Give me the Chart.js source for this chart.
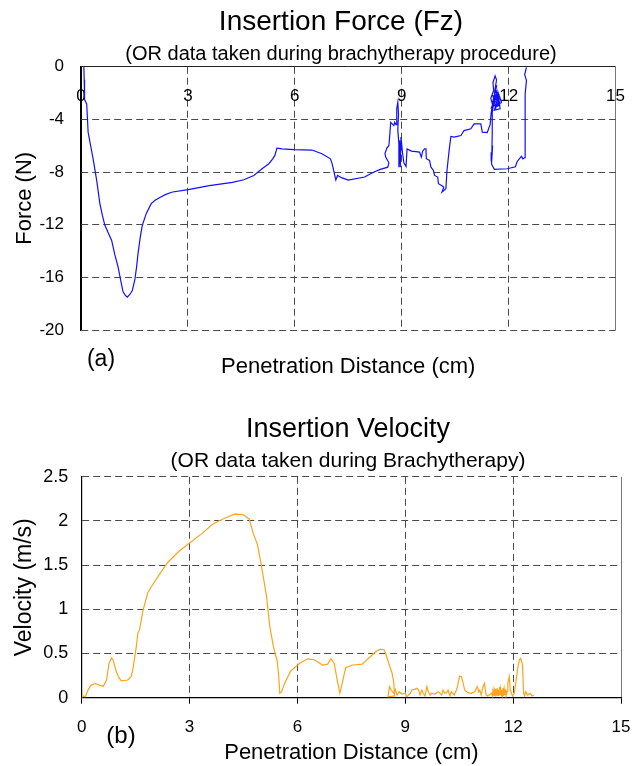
<!DOCTYPE html>
<html>
<head>
<meta charset="utf-8">
<script src="https://cdn.jsdelivr.net/npm/chart.js@4"></script>
<style>
  body { margin: 0; background: #fff; }
  #wrap { position: relative; width: 644px; height: 766px; }
  #forceChart { position: absolute; left: 0; top: 0; }
  #velocityChart { position: absolute; left: 0; top: 385px; }
</style>
</head>
<body>
<div id="wrap">
  <canvas id="forceChart" width="644" height="385"></canvas>
  <canvas id="velocityChart" width="644" height="381"></canvas>
</div>
<script>
// tick values
const distanceTicks = [0, 3, 6, 9, 12, 15];
const forceTicks = [-20, -16, -12, -8, -4, 0];
const velocityTicks = [0, 0.5, 1, 1.5, 2, 2.5];

// (a) insertion force
const forceX = [0.08, 0.09, 0.1, 0.16, 0.2, 0.27, 0.34, 0.44, 0.53, 0.6, 0.67, 0.76, 0.86, 0.95, 1.04, 1.12, 1.18, 1.24, 1.3, 1.37,
  1.44, 1.51, 1.56, 1.6, 1.66, 1.72, 1.83, 1.97, 2.08, 2.2, 2.38, 2.57, 3.01, 3.6, 4.25, 4.57, 4.85, 5.08, 5.27, 5.38,
  5.44, 5.5, 5.55, 5.64, 5.97, 6.48, 6.76, 7.0, 7.05, 7.11, 7.15, 7.2, 7.31, 7.5, 7.96, 8.22, 8.4, 8.61, 8.64, 8.55,
  8.53, 8.58, 8.64, 8.67, 8.69, 8.78, 8.8, 8.84, 8.86, 8.89, 8.91, 8.89, 8.92, 8.92, 8.94, 8.96, 8.98, 9.02, 9.06, 9.12,
  9.15, 9.27, 9.4, 9.5, 9.55, 9.59, 9.64, 9.68, 9.69, 9.78, 9.82, 9.89, 9.92, 10.01, 10.03, 10.12, 10.18, 10.13, 10.24, 10.27,
  10.33, 10.38, 10.47, 10.66, 10.75, 10.94, 11.03, 11.22, 11.26, 11.4, 11.48, 11.51,
  11.55, 11.5, 11.58, 11.56, 11.62, 11.66, 11.61, 11.69, 11.58, 11.74, 11.66, 11.8, 11.71, 11.76, 11.6, 11.68, 11.52, 11.64,
  11.57, 11.72, 11.63, 11.7, 11.55, 11.67, 11.6, 11.75, 11.62, 11.69, 11.56, 11.64, 11.59, 11.54,
  11.54, 11.53, 11.51, 11.55, 11.52, 11.56, 11.6, 11.96, 12.19, 12.24, 12.3, 12.36, 12.4, 12.46, 12.46, 12.47, 12.46, 12.5, 12.45, 12.5];
const forceY = [0, -1.0, -2.5, -2.83, -4.97, -6.0, -7.0, -8.64, -10.4, -11.3, -12.05, -12.6, -13.2, -14.3, -15.2, -16.3, -17.1, -17.35, -17.5, -17.3,
  -17.0, -16.2, -15.2, -14.2, -13.0, -12.05, -11.16, -10.4, -10.15, -9.95, -9.7, -9.52, -9.34, -9.04, -8.79, -8.59, -8.26, -7.75, -7.37, -7.0,
  -6.74, -6.19, -6.2, -6.24, -6.3, -6.33, -6.61, -7.0, -7.4, -8.13, -8.6, -8.26, -8.43, -8.62, -8.38, -8.0, -7.8, -7.63, -7.3, -6.87,
  -6.6, -6.2, -5.98, -5.0, -4.22, -4.47, -4.22, -4.4, -3.2, -2.7, -3.6, -4.8, -5.86, -7.63, -5.6, -7.63, -5.35, -6.5, -7.3, -7.58,
  -6.24, -6.41, -6.45, -6.49, -6.87, -6.4, -6.24, -6.24, -6.99, -7.12, -7.63, -7.88, -8.26, -8.38, -8.89, -9.02, -9.15, -9.52, -9.27, -7.88,
  -6.36, -5.3, -5.35, -5.23, -4.85, -4.72, -4.34, -4.34, -4.97, -5.0, -4.4, -3.5,
  -2.9, -2.4, -1.8, -1.2, -0.7, -1.0, -1.9, -2.1, -2.6, -2.4, -3.0, -2.7, -2.0, -3.2, -3.3, -2.8, -3.1, -2.2,
  -2.5, -2.9, -1.6, -2.3, -2.7, -1.4, -2.0, -2.9, -3.1, -2.4, -2.2, -3.2, -2.6, -3.5,
  -5.0, -6.5, -7.2, -6.0, -7.4, -7.6, -7.8, -7.75, -7.6, -7.2, -7.0, -6.8, -7.0, -6.9, -6.2, -4.75, -2.07, -1.06, -0.6, -0.05];

// (b) insertion velocity
const velocityX = [0, 0.05, 0.09, 0.12, 0.18, 0.26, 0.37, 0.5, 0.6, 0.69, 0.76, 0.83, 0.87, 0.96, 1.03, 1.1, 1.28, 1.38, 1.44, 1.47,
  1.52, 1.56, 1.61, 1.7, 1.84, 2.07, 2.39, 2.71, 3.0, 3.35, 3.63, 3.81, 4.09, 4.27, 4.5, 4.66, 4.77, 4.89, 5.0, 5.14,
  5.23, 5.33, 5.44, 5.48, 5.51, 5.55, 5.65, 5.81, 6.06, 6.29, 6.47, 6.7, 6.84, 6.93, 7.02, 7.12, 7.18, 7.25, 7.34, 7.53,
  7.8, 7.99, 8.17, 8.31, 8.42, 8.54, 8.63, 8.68, 8.7,
  8.52, 8.56, 8.61, 8.68, 8.72, 8.77, 8.83, 8.91, 9.0, 9.04, 9.14, 9.18, 9.26, 9.32, 9.37, 9.41, 9.46, 9.5, 9.55, 9.6,
  9.64, 9.69, 9.73, 9.82, 9.92, 10.01, 10.05, 10.1, 10.15, 10.19, 10.24, 10.28, 10.36, 10.42, 10.45, 10.51, 10.56, 10.61, 10.65, 10.74,
  10.83, 10.93, 11.0, 11.04, 11.07, 11.11, 11.16, 11.2, 11.25, 11.29, 11.4, 11.42, 11.44, 11.46, 11.48, 11.5, 11.51, 11.53, 11.55, 11.57,
  11.58, 11.6, 11.62, 11.63, 11.65, 11.67, 11.68, 11.7, 11.72, 11.73, 11.75, 11.77, 11.78, 11.8, 11.83, 11.85, 11.89, 11.92, 11.98, 12.03,
  12.07, 12.12, 12.17, 12.21, 12.26, 12.29, 12.32, 12.35, 12.4, 12.47, 12.53, 12.58];
const velocityY = [0, 0.02, 0.01, 0.03, 0.09, 0.14, 0.16, 0.14, 0.13, 0.2, 0.39, 0.45, 0.43, 0.3, 0.23, 0.19, 0.2, 0.24, 0.36, 0.45,
  0.58, 0.73, 0.77, 0.98, 1.19, 1.34, 1.53, 1.66, 1.75, 1.86, 1.96, 2.0, 2.05, 2.08, 2.07, 2.02, 1.86, 1.73, 1.49, 1.15,
  0.81, 0.58, 0.41, 0.24, 0.05, 0.06, 0.17, 0.3, 0.39, 0.44, 0.43, 0.37, 0.38, 0.44, 0.39, 0.17, 0.05, 0.17, 0.34, 0.37,
  0.38, 0.45, 0.52, 0.55, 0.54, 0.39, 0.28, 0.17, 0.02,
  0.01, 0.125, 0.087, 0.05, 0.095, 0.03, 0.068, 0.042, 0.05, 0.01, 0.05, 0.087, 0.095, 0.106, 0.087, 0.03, 0.087, 0.05, 0.02, 0.125,
  0.068, 0.03, 0.05, 0.042, 0.068, 0.03, 0.087, 0.05, 0.057, 0.087, 0.02, 0.068, 0.03, 0.087, 0.125, 0.245, 0.238, 0.163, 0.087, 0.057,
  0.05, 0.068, 0.125, 0.068, 0.087, 0.03, 0.125, 0.163, 0.03, 0.02, 0.05, 0.02, 0.09, 0.02, 0.08, 0.02, 0.1, 0.03, 0.11, 0.02,
  0.09, 0.02, 0.12, 0.03, 0.1, 0.02, 0.09, 0.03, 0.11, 0.02, 0.1, 0.03, 0.09, 0.02, 0.07, 0.163, 0.238, 0.087, 0.02, 0.05,
  0.163, 0.314, 0.427, 0.446, 0.37, 0.05, 0.02, 0.068, 0.03, 0.05, 0.02, 0.03];

Chart.defaults.font.family = '"Liberation Sans", Arial, sans-serif';
Chart.defaults.color = '#000';

const useTicks = (values) => (scale) => { scale.ticks = values.map(v => ({ value: v })); };
// dashed grid lines; lines listed in `solid` are drawn as solid edges
const gridDash = (solid) => (c) => (c.tick && !(c.tick.value in solid)) ? [7, 4] : [];
const gridColor = (solid) => (c) => (c.tick && c.tick.value in solid) ? solid[c.tick.value] : '#4a4a4a';

// invisible right-hand box so the titles sit where they do in the figure
const spacerAxis = (w) => ({
  position: 'right',
  display: true,
  afterFit: (s) => { s.width = w; },
  ticks: { display: false },
  grid: { display: false },
  border: { display: false }
});

const panelLabel = (text, x, y, size) => ({
  id: 'panelLabel',
  afterDraw(chart) {
    const c = chart.ctx;
    c.save();
    c.font = size + 'px "Liberation Sans", Arial, sans-serif';
    c.fillStyle = '#000';
    c.textAlign = 'center';
    c.textBaseline = 'middle';
    c.fillText(text, x, y);
    c.restore();
  }
});

const forceCtx = document.getElementById('forceChart').getContext('2d');
const forceChart = new Chart(forceCtx, {
  type: 'scatter',
  data: {
    datasets: [{
      data: forceX.map((x, i) => ({ x: x, y: forceY[i] })),
      showLine: true,
      borderColor: '#1010ff',
      borderWidth: 1.2,
      pointRadius: 0,
      tension: 0
    }]
  },
  options: {
    responsive: false,
    animation: false,
    layout: { padding: { left: 0, right: -38, top: 0, bottom: 0 } },
    plugins: {
      legend: { display: false },
      tooltip: { enabled: false },
      title: {
        display: true,
        text: 'Insertion Force (Fz)',
        font: { size: 28, weight: 'normal' },
        padding: { top: 5.5, bottom: 0 }
      },
      subtitle: {
        display: true,
        text: '(OR data taken during brachytherapy procedure)',
        color: '#000',
        font: { size: 20, weight: 'normal' },
        padding: { top: 3, bottom: 0.6 }
      }
    },
    scales: {
      x: {
        type: 'linear',
        min: 0,
        max: 15,
        afterBuildTicks: useTicks(distanceTicks),
        afterFit: (s) => { s.height = 55; },
        ticks: { display: false },
        grid: { drawTicks: false, color: gridColor({ 0: '#000', 15: '#777' }) },
        border: { display: false, dash: gridDash({ 0: 1, 15: 1 }) },
        title: {
          display: true,
          text: 'Penetration Distance (cm)',
          font: { size: 22 },
          padding: { top: 0, bottom: 5 }
        }
      },
      xTop: {
        type: 'linear',
        axis: 'x',
        position: { y: 0 },
        min: 0,
        max: 15,
        afterBuildTicks: useTicks(distanceTicks),
        ticks: { font: { size: 17 }, padding: 19, callback: (v) => String(v) },
        grid: { display: false, drawTicks: false },
        border: { display: false }
      },
      y: {
        min: -20,
        max: 0,
        afterBuildTicks: useTicks(forceTicks),
        afterFit: (s) => { s.width = 81; },
        ticks: { font: { size: 17 }, padding: 17, callback: (v) => String(v) },
        grid: { drawTicks: false, color: gridColor({ 0: '#222' }) },
        border: { display: true, color: '#000', width: 1.2, dash: gridDash({ 0: 1 }) },
        title: {
          display: true,
          text: 'Force (N)',
          font: { size: 22 },
          padding: { top: 11.8, bottom: 0 }
        }
      },
      pad: spacerAxis(63)
    }
  },
  plugins: [panelLabel('(a)', 101, 360, 23)]
});

const velocityCtx = document.getElementById('velocityChart').getContext('2d');
const velocityChart = new Chart(velocityCtx, {
  type: 'scatter',
  data: {
    datasets: [{
      data: velocityX.map((x, i) => ({ x: x, y: velocityY[i] })),
      showLine: true,
      borderColor: '#ffa31a',
      borderWidth: 1.2,
      pointRadius: 0,
      tension: 0
    }]
  },
  options: {
    responsive: false,
    animation: false,
    layout: { padding: { left: 0, right: -52, top: 0, bottom: 0 } },
    plugins: {
      legend: { display: false },
      tooltip: { enabled: false },
      title: {
        display: true,
        text: 'Insertion Velocity',
        font: { size: 27, weight: 'normal' },
        padding: { top: 28, bottom: 0 }
      },
      subtitle: {
        display: true,
        text: '(OR data taken during Brachytherapy)',
        color: '#000',
        font: { size: 21, weight: 'normal' },
        padding: { top: 3.5, bottom: 2.7 }
      }
    },
    scales: {
      x: {
        type: 'linear',
        min: 0,
        max: 15,
        afterBuildTicks: useTicks(distanceTicks),
        afterFit: (s) => { s.height = 68.3; },
        ticks: { font: { size: 17 }, padding: 13.5, callback: (v) => String(v) },
        grid: {
          tickLength: 6,
          tickColor: '#000',
          tickBorderDash: [],
          color: gridColor({ 0: '#000', 15: '#777' })
        },
        border: { display: true, color: '#000', width: 1.2, dash: gridDash({ 0: 1, 15: 1 }) },
        title: {
          display: true,
          text: 'Penetration Distance (cm)',
          font: { size: 22 },
          padding: { top: 0, bottom: 0 }
        }
      },
      y: {
        min: 0,
        max: 2.5,
        afterBuildTicks: useTicks(velocityTicks),
        afterFit: (s) => { s.width = 81.7; },
        ticks: { font: { size: 18 }, padding: 13.5, callback: (v) => String(v) },
        grid: { drawTicks: false, color: gridColor({ 0: '#000' }) },
        border: { display: true, color: '#000', width: 1.2, dash: gridDash({ 0: 1 }) },
        title: {
          display: true,
          text: 'Velocity (m/s)',
          font: { size: 23 },
          padding: { top: 11.2, bottom: 0 }
        }
      },
      pad: spacerAxis(70)
    }
  },
  plugins: [panelLabel('(b)', 121, 351.5, 24)]
});
</script>
</body>
</html>
